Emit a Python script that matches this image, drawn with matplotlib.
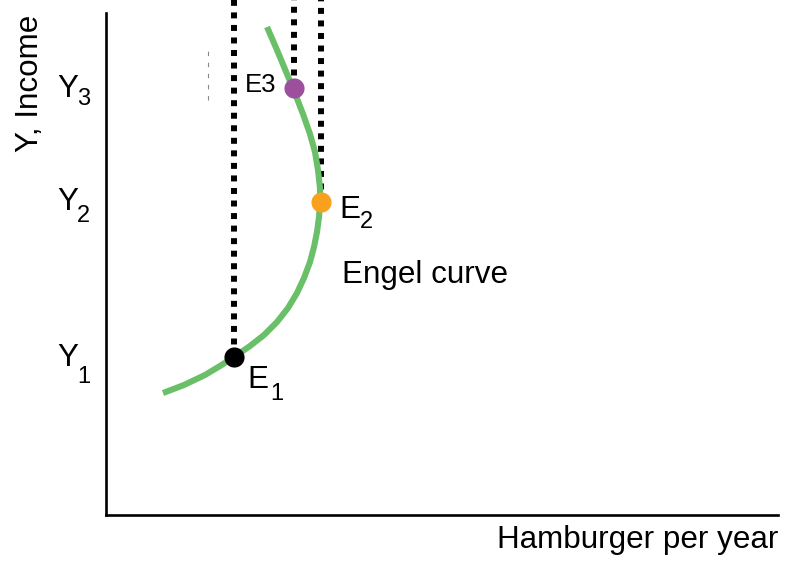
import matplotlib
matplotlib.use("Agg")
import matplotlib.pyplot as plt

plt.rcParams['font.family'] = ['Liberation Sans', 'DejaVu Sans']

# Engel curve traced through quantity (x) vs income (y)
curve_q = [57, 78, 99, 114, 128, 144, 158, 171, 182, 191, 198, 204, 208, 211,
           213, 214, 214, 212, 209, 204, 197, 190, 181, 171, 161]
curve_y = [122, 130, 140, 149, 158, 169, 180, 193, 207, 222, 237, 253, 268, 283,
           298, 313, 327, 345, 363, 381, 401, 419, 441, 465, 488]

# Equilibrium points E1, E2, E3
eq_names = ["1", "2", "3"]
eq_q = [128, 215, 188]
eq_y = [158, 313, 427]
eq_colors = ["#000000", "#F7A11F", "#9B4F9C"]

income_labels = ["1", "2", "3"]

FS = 22.6

fig = plt.figure(figsize=(8, 5.63), dpi=100)
ax = fig.add_axes([106 / 800, 48 / 563, 672 / 800, 502 / 563])
ax.set_xlim(0, 672)
ax.set_ylim(0, 502)
for s in ["top", "right"]:
    ax.spines[s].set_visible(False)
for s in ["left", "bottom"]:
    ax.spines[s].set_linewidth(1.9)
    ax.spines[s].set_color("black")
ax.set_xticks([])
ax.set_yticks([])
ax.patch.set_visible(False)

# vertical dotted guides from each equilibrium up past the top
top = 520
for q, y in zip(eq_q, eq_y):
    ax.plot([q, q], [y, top], color="black", lw=4.3,
            linestyle=(0, (1, 1.1)), dash_capstyle="butt", clip_on=False, zorder=2)

# faint grey dashed stub
ax.plot([102, 102], [415, 467], color="#888888", lw=0.8,
        linestyle=(0, (4, 6)), clip_on=False, zorder=1)

# Engel curve
ax.plot(curve_q, curve_y, color="#6ABF69", lw=4.4, solid_joinstyle="round",
        solid_capstyle="butt", zorder=3)

# equilibrium markers
for q, y, c in zip(eq_q, eq_y, eq_colors):
    ax.plot(q, y, "o", ms=14.5, color=c, mec="none", zorder=4, clip_on=False)

# income level labels
y_offsets = [(149, 132), (305, 293), (418, 410)]
for sub, (yb, sb) in zip(income_labels, y_offsets):
    ax.text(-28, yb, "Y", ha="right", va="baseline", fontsize=FS, clip_on=False)
    ax.text(-29, sb, sub, ha="left", va="baseline", fontsize=17, clip_on=False)

# point labels
ax.text(141, 127, "E", ha="left", va="baseline", fontsize=FS)
ax.text(164, 115, "1", ha="left", va="baseline", fontsize=17)
ax.text(233, 297, "E", ha="left", va="baseline", fontsize=FS)
ax.text(254, 287, "2", ha="left", va="baseline", fontsize=17)
ax.text(139, 423, "E3", ha="left", va="baseline", fontsize=18.5)

ax.text(236, 232, "Engel curve", ha="left", va="baseline", fontsize=FS)

ax.text(672, -33, "Hamburger per year", ha="right", va="baseline",
        fontsize=FS, clip_on=False)
ax.text(-76, 432, "Y, Income", ha="center", va="center", rotation=90,
        fontsize=FS, clip_on=False)

fig.savefig("out.png", dpi=100)
